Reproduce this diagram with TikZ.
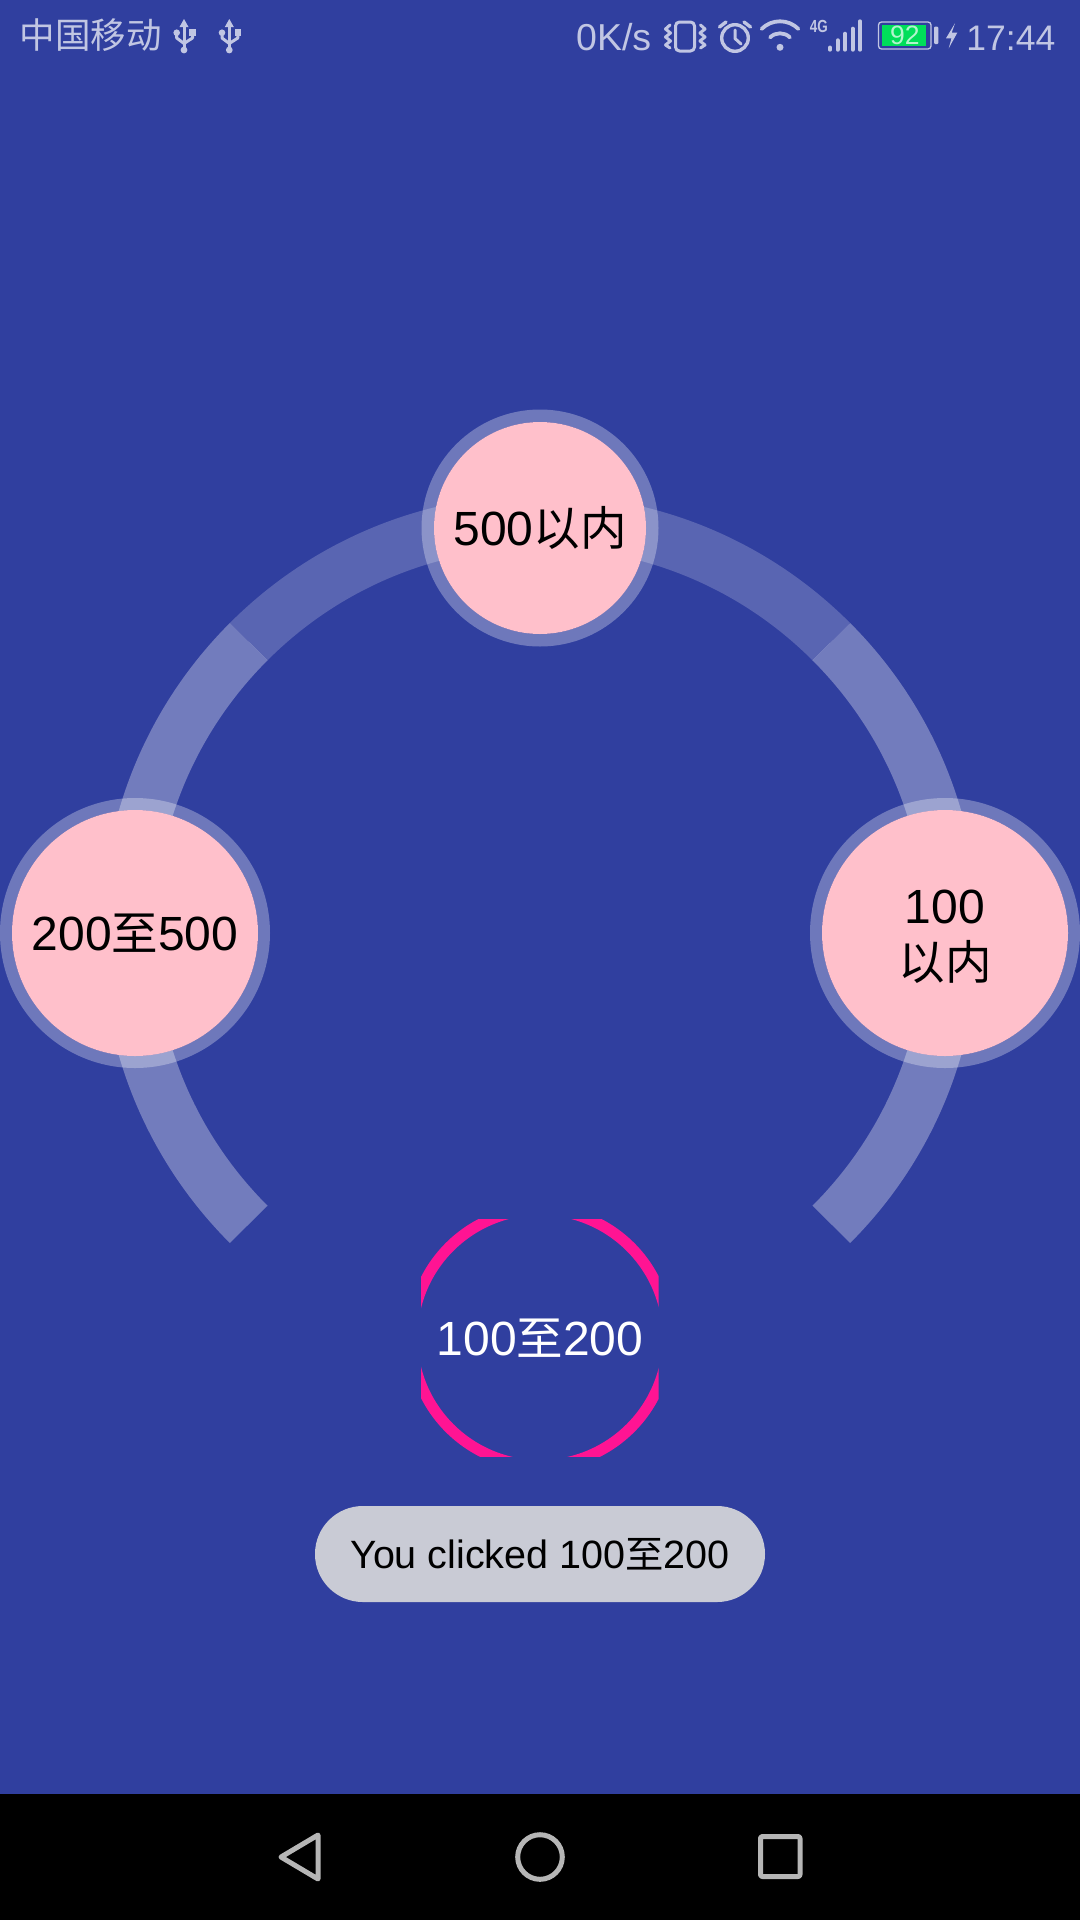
\documentclass[tikz,border=0pt]{standalone}
\usepackage{fontspec}
\setmainfont{Liberation Sans}
\newfontfamily\cjk[Scale=0.97]{Noto Sans CJK SC}
\usetikzlibrary{positioning}
\definecolor{screen}{RGB}{48,63,159}
\definecolor{statusink}{RGB}{193,198,227}
\definecolor{navink}{RGB}{182,182,182}
\definecolor{toastfill}{RGB}{201,203,213}
\definecolor{batterygreen}{RGB}{0,222,90}
\definecolor{petalpink}{RGB}{255,192,203}
\definecolor{chosenpink}{RGB}{255,20,147}
\tikzstyle{halo} = [circle, inner sep=0pt, draw=white, draw opacity=0.3]
\tikzstyle{petal} = [circle, inner sep=0pt, fill=petalpink, text=black, align=center, font=\fontsize{48}{56}\selectfont]
\tikzstyle{band} = [draw=white, line width=53pt]
\tikzstyle{statustext} = [inner sep=0pt, text=statusink, anchor=base west]
\tikzstyle{icon} = [draw=statusink, line width=3pt, line cap=round, line join=round]
\tikzstyle{bar} = [icon, line width=4pt]
\tikzstyle{navicon} = [draw=navink, line width=5pt, line join=round]

\begin{document}
\begin{tikzpicture}[x=1pt, y=-1pt]

    \useasboundingbox (0,0) rectangle (1080,1920);
    \fill [screen] (0,0) rectangle (1080,1794);
    \fill [black] (0,1794) rectangle (1080,1920);

    \coordinate (hub) at (540,933);
    \draw [band, opacity=0.2] (hub) ++(225:412) arc [start angle=225, end angle=315, radius=412];
    \draw [band, opacity=0.32] (hub) ++(135:412) arc [start angle=135, end angle=225, radius=412];
    \draw [band, opacity=0.32] (hub) ++(-45:412) arc [start angle=-45, end angle=45, radius=412];

    \node (topHalo) [halo, minimum size=224.5pt, line width=12.5pt] at (540,528) {};
    \node (top) [petal, minimum size=212pt, text height=35pt, text depth=0pt] at (topHalo) {500{\cjk 以内}};
    \node (leftHalo) [halo, minimum size=258pt, line width=12pt] at (135,933) {};
    \node (left) [petal, minimum size=246pt, text height=35pt, text depth=0pt] at (leftHalo) {200{\cjk 至}500};
    \node (rightHalo) [halo, minimum size=258pt, line width=12pt] at (945,933) {};
    \node (right) [petal, minimum size=246pt, text height=92pt, text depth=0pt] at (rightHalo) {100\\{\cjk 以内}};

    \begin{scope}
        \clip (421,1219) rectangle (658.5,1456);
        \draw [chosenpink, line width=11pt] (540,1337.5) circle (128);
    \end{scope}
    \node (chosen) [inner sep=0pt, text=white, text height=35pt, text depth=0pt, font=\fontsize{48}{56}\selectfont] at (540,1338) {100{\cjk 至}200};

    \node (toast) [rectangle, rounded corners=47.9pt, inner sep=0pt, minimum width=450pt, minimum height=96pt, fill=toastfill, text=black, font=\fontsize{39.5}{46}\selectfont] at (540,1554) {You clicked 100{\cjk 至}200};

    \node (carrier) [statustext, font=\fontsize{36.6}{40}\cjk] at (19.5,48.5) {中国移动};
    \foreach \usbx in {184,229.3} {
        \fill [statusink] (\usbx,19) -- (\usbx+4.5,27) -- (\usbx-4.5,27) -- cycle;
        \fill [statusink] (\usbx,50) circle (3.4);
        \fill [statusink] (\usbx-7.3,32.7) circle (3.3);
        \fill [statusink] (\usbx+5.3,29.3) rectangle (\usbx+11.7,35.7);
        \draw [icon, line cap=butt] (\usbx,26) -- (\usbx,49);
        \draw [icon, line cap=butt] (\usbx-7.3,32.7) -- (\usbx-7.3,38) -- (\usbx,43.5) -- (\usbx+8.5,38) -- (\usbx+8.5,33);
    }

    \node (speed) [statustext, font=\fontsize{37.5}{40}\selectfont] at (576,50) {0K/s};
    \draw [icon, rounded corners=4pt] (675.5,22) rectangle (694.5,51);
    \draw [icon] (670,25) -- (665.5,29) -- (670.5,33) -- (665.5,37) -- (670.5,41) -- (665.5,45) -- (670,48);
    \draw [icon] (700.5,25) -- (705,29) -- (700,33) -- (705,37) -- (700,41) -- (705,45) -- (700.5,48);
    \draw [icon, line width=3.4pt] (735,38) circle (13.3);
    \draw [icon] (735,30) -- (735,38.5) -- (741,44);
    \draw [icon, line width=3.4pt] (726,22) -- (719.5,27);
    \draw [icon, line width=3.4pt] (744,22) -- (750.5,27);
    \fill [statusink] (780,47.3) circle (3.5);
    \foreach \wifir in {14,26} {
        \draw [icon, line width=3.8pt] (780,47.3) ++(225:\wifir) arc [start angle=225, end angle=315, radius=\wifir];
    }
    \node (lte) [inner sep=0pt, text=statusink, xscale=0.77, font=\fontsize{17.5}{20}\bfseries] at (818.8,26.5) {4G};
    \foreach \barx/\bartop in {830/47.5, 837.7/40.3, 845/33.7, 852.7/28.7, 860/21.3} {
        \draw [bar] (\barx,49.7) -- (\barx,\bartop);
    }
    \draw [statusink, line width=1.3pt, rounded corners=3pt] (878.5,22) rectangle (931,49);
    \fill [batterygreen] (881.7,25) rectangle (925.7,46);
    \node (level) [inner sep=0pt, text=white!70!batterygreen, font=\fontsize{26.5}{30}\selectfont] at (904.8,35.5) {92};
    \fill [statusink, rounded corners=1pt] (934,26.7) rectangle (938.3,44);
    \fill [statusink] (955,23.3) -- (946,38.3) -- (951.5,38.3) -- (948.7,48.3) -- (957.3,32.7) -- (951.7,32.7) -- cycle;
    \node (clock) [statustext, anchor=base east, font=\fontsize{35.5}{40}\selectfont] at (1055.5,50) {17:44};

    \draw [navicon] (318,1835) -- (281,1857) -- (318,1879) -- cycle;
    \draw [navicon] (540,1857) circle (22.3);
    \draw [navicon, rounded corners=2pt] (760.5,1836.5) rectangle (800,1876.5);

\end{tikzpicture}
\end{document}
